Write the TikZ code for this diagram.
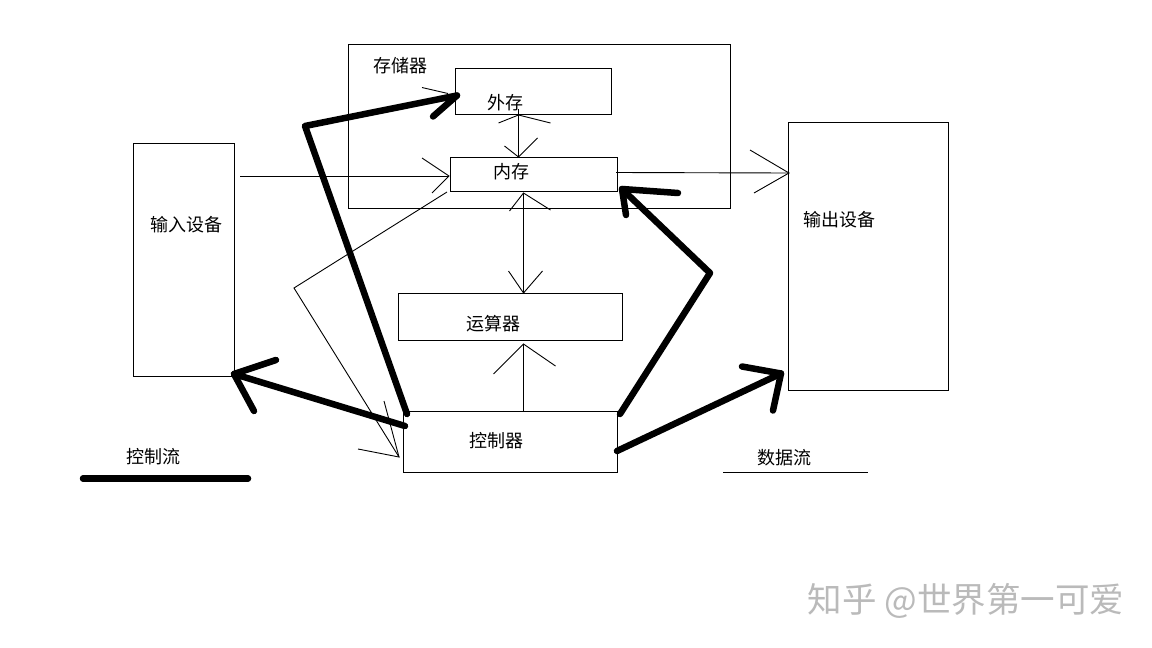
\documentclass[tikz,border=0pt]{standalone}
\usepackage{fontspec}
\setmainfont{Noto Sans CJK SC}
\usetikzlibrary{calc}
\newcommand\mybarbs[4][thinline]{\draw[#1] ($(#2)+(#3)$) -- (#2) -- ($(#2)+(#4)$);}
\begin{document}
\begin{tikzpicture}[x=1pt,y=-1pt,
  box/.style={draw, line width=1pt, inner sep=0pt, anchor=north west},
  lbl/.style={font=\fontsize{18}{18}\selectfont, inner sep=0pt},
  thinline/.style={line width=0.9pt},
  thickline/.style={line width=6.5pt, line cap=round, line join=round}]
\useasboundingbox (0,0) rectangle (1152,648);
\fill[white] (0,0) rectangle (1152,648);

% boxes
\node[box, minimum width=382pt, minimum height=164pt] (store) at (348,44) {};
\node[box, minimum width=156pt, minimum height=46pt] (ext) at (455,68) {};
\node[box, minimum width=167pt, minimum height=34pt] (mem) at (450,157) {};
\node[box, minimum width=101pt, minimum height=233pt] (inp) at (133,143) {};
\node[box, minimum width=160pt, minimum height=268pt] (outp) at (788,122) {};
\node[box, minimum width=224pt, minimum height=47pt] (alu) at (398,293) {};
\node[box, minimum width=214pt, minimum height=61pt] (ctrl) at (403,411) {};

% labels
\node[lbl] (tstore) at (400,66) {存储器};
\node[lbl] (text) at (505,103) {外存};
\node[lbl] (tmem) at (511,172) {内存};
\node[lbl] (tinp) at (186,225) {输入设备};
\node[lbl] (toutp) at (839,220) {输出设备};
\node[lbl] (talu) at (493,324) {运算器};
\node[lbl] (tctrl) at (496,441) {控制器};
\node[lbl] (tcf) at (153,457) {控制流};
\node[lbl] (tdf) at (784,458) {数据流};
\node[font=\fontsize{34.5}{34.5}\selectfont, text=black!27, inner sep=0pt] (wm) at (966,601) {知乎 @世界第一可爱};

% ---- data flow (thin) ----
% input -> memory
\coordinate (d1s) at ($(inp.north east)+(5,33)$);
\coordinate (d1t) at ($(d1s -| mem.west)+(-1,0)$);
\draw[thinline] (d1s) -- (d1t);
\mybarbs{d1t}{-27,-18}{-17,17}
% memory -> controller
\coordinate (d2b) at (294,288);
\coordinate (d2t) at ($(ctrl.west)+(-4,15)$);
\draw[thinline] ($(mem.south west)+(-3,0)$) -- (d2b) -- (d2t);
\mybarbs{d2t}{-15,-56}{-41,-8}
% external <-> internal memory
\coordinate (d3a) at ($(ext.south)+(-15,0)$);
\coordinate (d3b) at (d3a |- mem.north);
\draw[thinline] ($(d3a)+(0,-6)$) -- (d3b);
\mybarbs{d3a}{-20,8}{32,8}
\mybarbs{d3b}{-14,-11}{19,-19}
% memory <-> ALU
\coordinate (d4a) at ($(mem.south)+(-10.5,1)$);
\coordinate (d4b) at (d4a |- alu.north);
\draw[thinline] (d4a) -- (d4b);
\mybarbs{d4a}{-14,18}{27,17}
\mybarbs{d4b}{-15,-22}{19,-22}
% controller -> ALU
\coordinate (d5s) at (d4a |- ctrl.north);
\coordinate (d5t) at ($(d4a |- alu.south)+(0,3)$);
\draw[thinline] (d5s) -- (d5t);
\mybarbs{d5t}{-30,30}{32,22}
% memory -> output
\coordinate (d6s) at ($(mem.east)+(-2,-2)$);
\coordinate (d6t) at ($(outp.north west)+(1,51)$);
\draw[thinline] (d6s) -- (d6t);
\mybarbs{d6t}{-39,-23}{-35,20}

% ---- control flow (thick) ----
% controller -> input
\coordinate (c1t) at ($(inp.south east)+(-1,-3)$);
\draw[thickline] ($(ctrl.north west)+(2,15)$) -- (c1t);
\mybarbs[thickline]{c1t}{42,-14}{20,37}
% controller -> external memory
\coordinate (c2b) at (305,126);
\coordinate (c2t) at ($(ext.west)+(2,4)$);
\draw[thickline] ($(ctrl.north west)+(4,3)$) -- (c2b) -- (c2t);
\draw[thickline] ($(c2t)+(-24,21)$) -- (c2t);
\draw[thinline] ($(c2t)+(-35,-8)$) -- ($(c2t)+(-9,-2)$);
% controller -> internal memory
\coordinate (c3b) at (710,273);
\coordinate (c3t) at ($(mem.south east)+(4,-3)$);
\draw[thickline] ($(ctrl.north east)+(2,3)$) -- (c3b) -- (c3t);
\mybarbs[thickline]{c3t}{56,4}{4,26}
% controller -> output
\coordinate (c4t) at ($(outp.west)+(-7,117)$);
\draw[thickline] ($(ctrl.east)+(-1,9)$) -- (c4t);
\mybarbs[thickline]{c4t}{-39,-7}{-8,37}

% legends
\draw[thickline] ($(tcf.south)+(-70,13)$) coordinate (lc1) -- ($(tcf.south)+(95,13)$) coordinate (lc2);
\draw[thinline] ($(tdf.south)+(-61,6)$) coordinate (ld1) -- ($(tdf.south)+(84,6)$) coordinate (ld2);
\end{tikzpicture}
\end{document}
